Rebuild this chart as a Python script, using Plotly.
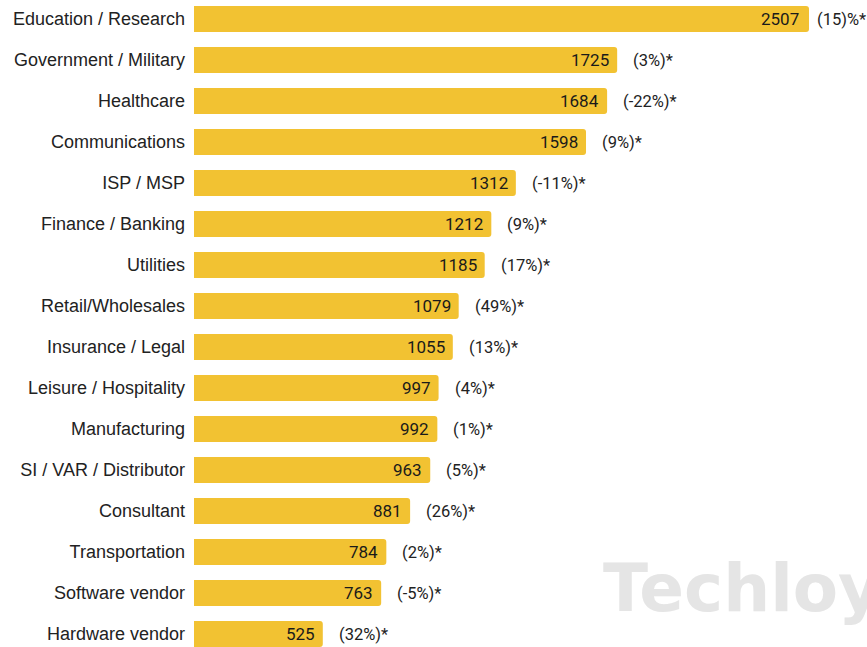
import plotly.graph_objects as go

categories = ["Education / Research", "Government / Military", "Healthcare", "Communications",
              "ISP / MSP", "Finance / Banking", "Utilities", "Retail/Wholesales",
              "Insurance / Legal", "Leisure / Hospitality", "Manufacturing",
              "SI / VAR / Distributor", "Consultant", "Transportation",
              "Software vendor", "Hardware vendor"]
values = [2507, 1725, 1684, 1598, 1312, 1212, 1185, 1079, 1055, 997, 992, 963, 881, 784, 763, 525]
changes = ["(15)%*", "(3%)*", "(-22%)*", "(9%)*", "(-11%)*", "(9%)*", "(17%)*", "(49%)*",
           "(13%)*", "(4%)*", "(1%)*", "(5%)*", "(26%)*", "(2%)*", "(-5%)*", "(32%)*"]

W, H = 867, 647
left = 194
px_per_unit = (809 - 194) / 2507
xmax = (W - left) / px_per_unit
row = 41.0
first_c = 19.0
ytop = -first_c / row
ybot = (H - first_c) / row

fig = go.Figure()
fig.add_trace(go.Bar(
    x=values, y=categories, orientation="h",
    marker=dict(color="#F2C232", line=dict(width=0)),
    width=26 / row,
    hoverinfo="skip",
))

for i, (c, v, ch) in enumerate(zip(categories, values, changes)):
    fig.add_annotation(x=v, y=c, text=str(v), showarrow=False, xanchor="right",
                       xshift=-6 if i else -8,
                       font=dict(family="Roboto", size=17, color="#1a1a1a"))
    fig.add_annotation(x=v, y=c, text=ch, showarrow=False, xanchor="left",
                       xshift=6 if i == 0 else 14,
                       font=dict(family="Roboto", size=16.5, color="#222222"))

fig.add_annotation(xref="paper", yref="paper", x=(601 - left) / (W - left), y=(H - 588) / H,
                   text="<b>Techloy</b>", showarrow=False, xanchor="left", yanchor="middle",
                   font=dict(family="DejaVu Sans", size=66, color="#E5E5E5"))

fig.update_layout(
    width=W, height=H,
    margin=dict(l=left, r=0, t=0, b=0),
    paper_bgcolor="white", plot_bgcolor="white",
    barcornerradius=3,
    showlegend=False,
    hovermode=False,
    xaxis=dict(range=[0, xmax], visible=False),
    yaxis=dict(type="category", categoryorder="array", categoryarray=categories,
               range=[ybot, ytop], showgrid=False, zeroline=False, showline=False,
               ticks="", ticklabelstandoff=8,
               tickfont=dict(family="Liberation Sans", size=18, color="#222222")),
)
fig.write_html("out.html", config={"displayModeBar": False},
               post_script="document.body.style.margin='0';document.body.style.overflow='hidden';")
